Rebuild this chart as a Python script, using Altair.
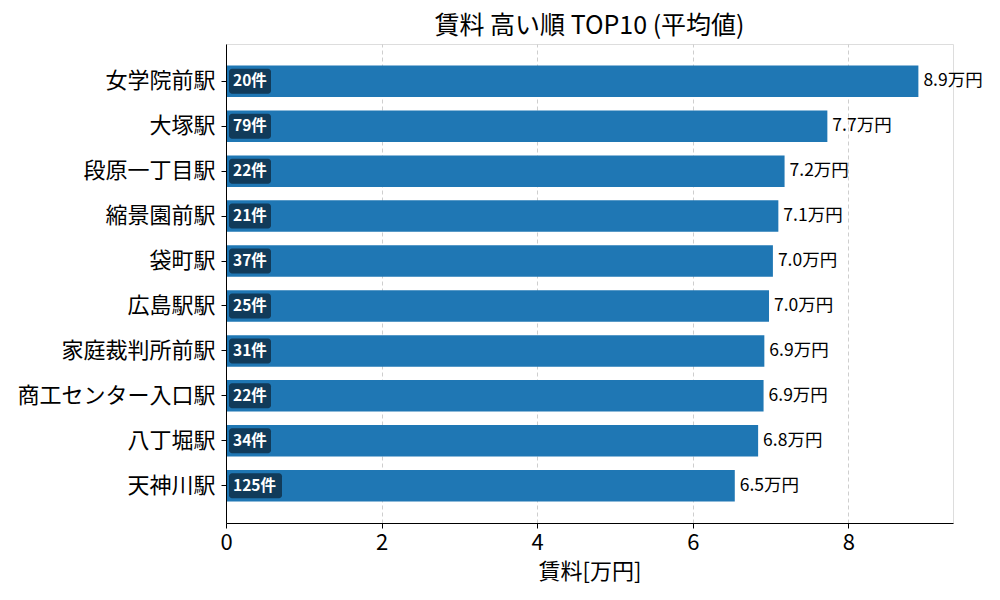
import altair as alt
import pandas as pd

stations = ["女学院前駅", "大塚駅", "段原一丁目駅", "縮景園前駅", "袋町駅",
            "広島駅駅", "家庭裁判所前駅", "商工センター入口駅", "八丁堀駅", "天神川駅"]
rents = [8.90, 7.73, 7.18, 7.10, 7.03, 6.98, 6.92, 6.91, 6.84, 6.54]
counts = [20, 79, 22, 21, 37, 25, 31, 22, 34, 125]
x_ticks = [0, 2, 4, 6, 8]

FONT = "Noto Sans CJK JP"
BAR = "#1f77b4"
BADGE = "#113b5a"

df = pd.DataFrame({"station": stations, "rent": rents, "count": counts})

y_enc = alt.Y("station:N", sort=stations, title=None,
              scale=alt.Scale(domain=stations, paddingInner=0.3, paddingOuter=0.48),
              axis=alt.Axis(labelFontSize=22, labelColor="black", labelPadding=6,
                            labelLimit=400, tickSize=5, tickColor="black",
                            domainColor="black", labelFont=FONT, zindex=1))
x_scale = alt.Scale(domain=[0, max(rents) * 1.05], nice=False, zero=True)

base = alt.Chart(df).transform_calculate(
    val_label="format(datum.rent, '.1f') + '万円'",
    cnt_label="datum.count + '件'",
)

bars = base.mark_bar(color=BAR).encode(
    y=y_enc,
    x=alt.X("rent:Q", scale=x_scale, title="賃料[万円]",
            axis=alt.Axis(values=x_ticks, format="d", labelFontSize=22,
                          labelColor="black", labelPadding=4, labelFlush=False,
                          tickSize=5, tickColor="black", domainColor="black",
                          titleFontSize=22, titleFontWeight="normal",
                          titleColor="black", titlePadding=8, labelFont=FONT,
                          titleFont=FONT, grid=True, gridDash=[4, 3],
                          gridColor="#c8c8c8", gridWidth=0.9)),
)

badge_short = base.transform_filter("length(datum.cnt_label) <= 3").mark_bar(
    color=BADGE, size=25, cornerRadius=3, xOffset=3, x2Offset=45
).encode(y=alt.Y("station:N", sort=stations), x=alt.datum(0), x2=alt.datum(0))

badge_long = base.transform_filter("length(datum.cnt_label) > 3").mark_bar(
    color=BADGE, size=25, cornerRadius=3, xOffset=3, x2Offset=56
).encode(y=alt.Y("station:N", sort=stations), x=alt.datum(0), x2=alt.datum(0))

badge_text = base.mark_text(
    align="left", baseline="middle", dx=7, color="white", fontWeight="bold",
    fontSize=15.5, font=FONT
).encode(y=alt.Y("station:N", sort=stations), x=alt.datum(0), text="cnt_label:N")

val_text = base.mark_text(
    align="left", baseline="middle", dx=5, color="black", fontSize=17.5, font=FONT
).encode(y=alt.Y("station:N", sort=stations), x="rent:Q", text="val_label:N")

chart = alt.layer(bars, badge_short, badge_long, badge_text, val_text).properties(
    width=727, height=479,
    title=alt.TitleParams("賃料 高い順 TOP10 (平均値)", fontSize=25, fontWeight="normal",
                          font=FONT, color="black", anchor="middle", offset=5),
    autosize=alt.AutoSizeParams(type="none"),
    padding={"left": 218, "top": 36, "right": 39, "bottom": 69},
).configure_view(stroke="black", strokeWidth=1).configure(font=FONT)

chart.save("out.html", embed_options={"renderer": "svg", "actions": False})
